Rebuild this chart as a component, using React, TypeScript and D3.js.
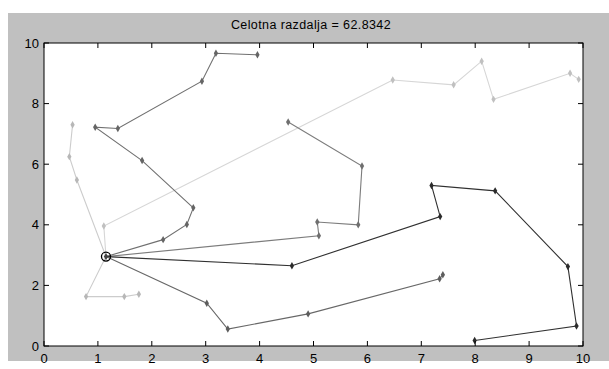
import React from 'react';
import * as d3 from 'd3';

// depot and routes
const title = 'Celotna razdalja = 62.8342';
const depot: [number, number] = [1.15, 2.95];

const routeA: [number, number][] = [[1.11, 3.96], [6.47, 8.78], [7.6, 8.62], [8.12, 9.4], [8.34, 8.14], [9.76, 9.0], [9.92, 8.8]];
const routeB: [number, number][] = [[0.61, 5.48], [0.47, 6.25], [0.53, 7.3]];
const routeC: [number, number][] = [[0.78, 1.63], [1.49, 1.63], [1.76, 1.71]];
const routeD: [number, number][] = [[2.21, 3.51], [2.65, 4.01], [2.77, 4.56], [1.82, 6.12], [0.95, 7.22], [1.37, 7.18], [2.93, 8.74], [3.19, 9.66], [3.96, 9.61]];
const routeE: [number, number][] = [[5.1, 3.64], [5.07, 4.09], [5.83, 4.0], [5.9, 5.94], [4.53, 7.39]];
const routeF: [number, number][] = [[4.6, 2.65], [7.35, 4.27], [7.19, 5.3], [8.37, 5.12], [9.72, 2.62], [9.88, 0.66], [7.99, 0.18]];
const routeG: [number, number][] = [[3.02, 1.41], [3.41, 0.56], [4.9, 1.06], [7.34, 2.22], [7.4, 2.35]];

const routes = [routeA, routeB, routeC, routeD, routeE, routeF, routeG];
const routeColors = ['#d6d6d6', '#cccccc', '#cccccc', '#707070', '#7c7c7c', '#303030', '#686868'];

const xTicks = [0, 1, 2, 3, 4, 5, 6, 7, 8, 9, 10];
const yTicks = [0, 2, 4, 6, 8, 10];

const W = 609;
const H = 369;
const left = 44, right = 583, top = 43, bottom = 346;

const App = () => {
  const x = d3.scaleLinear().domain([0, 10]).range([left, right]);
  const y = d3.scaleLinear().domain([0, 10]).range([bottom, top]);
  const line = d3.line<[number, number]>().x(d => x(d[0])).y(d => y(d[1]));
  const diamond = d3.symbol().type(d3.symbolDiamond).size(16)();
  const font = 'Arial, "Liberation Sans", Helvetica, sans-serif';

  // figure frame: gray around the white axes box
  const frame = `M8,13H${W}V361H8Z M${left},${top}V${bottom}H${right}V${top}Z`;

  return (
    <div style={{ position: 'absolute', left: 0, top: 0, width: W, height: H, background: '#fff' }}>
      <div style={{ position: 'absolute', left: 8, top: 13, width: W - 8, height: 348, background: '#c0c0c0' }} />
      <svg width={W} height={H} style={{ position: 'absolute', left: 0, top: 0, display: 'block' }}>
        <path d={frame} fill="#c0c0c0" fillRule="evenodd" />
        <rect x={left} y={top} width={right - left} height={bottom - top} fill="#fff" />

        <text x={311} y={29} textAnchor="middle" fontFamily={font} fontSize={12.5} letterSpacing={0.4} fill="#000">
          {title}
        </text>

        {routes.map((r, i) => {
          const pts: [number, number][] = [depot, ...r];
          return (
            <g key={i}>
              <path d={line(pts) || ''} fill="none" stroke={routeColors[i]} strokeWidth={1.1} />
              {r.map((p, j) => (
                <path key={j} d={diamond} transform={`translate(${x(p[0])},${y(p[1])})`}
                  fill={d3.color(routeColors[i])!.darker(0.3).toString()} />
              ))}
            </g>
          );
        })}

        <circle cx={x(depot[0])} cy={y(depot[1])} r={4.5} fill="none" stroke="#000" strokeWidth={1.3} />
        <path d={diamond} transform={`translate(${x(depot[0])},${y(depot[1])})`} fill="#444" />

        <rect x={left} y={top} width={right - left} height={bottom - top} fill="none" stroke="#000" strokeWidth={1} />

        {xTicks.map(t => (
          <g key={'x' + t}>
            <line x1={x(t)} x2={x(t)} y1={bottom} y2={bottom - 5} stroke="#000" />
            <line x1={x(t)} x2={x(t)} y1={top} y2={top + 5} stroke="#000" />
            <text x={x(t)} y={363} textAnchor="middle" fontFamily={font} fontSize={13} fill="#000">{t}</text>
          </g>
        ))}
        {yTicks.map(t => (
          <g key={'y' + t}>
            <line x1={left} x2={left + 5} y1={y(t)} y2={y(t)} stroke="#000" />
            <line x1={right} x2={right - 5} y1={y(t)} y2={y(t)} stroke="#000" />
            <text x={39} y={y(t) + 4.5} textAnchor="end" fontFamily={font} fontSize={13} fill="#000">{t}</text>
          </g>
        ))}
      </svg>
    </div>
  );
};

export default App;
